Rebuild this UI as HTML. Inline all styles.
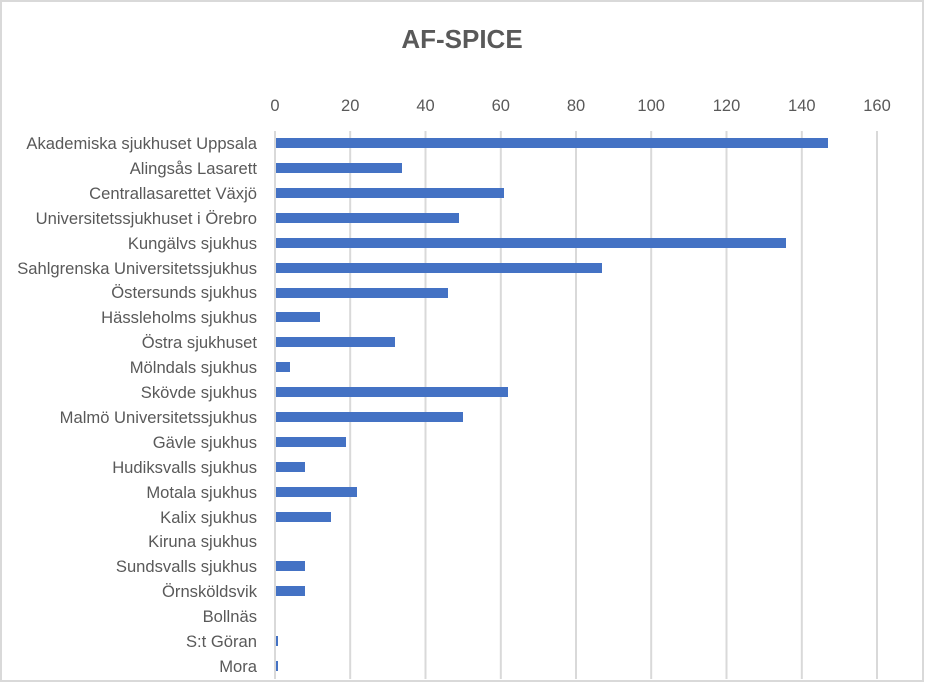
<!DOCTYPE html>
<html><head><meta charset="utf-8"><style>
html,body{margin:0;padding:0;background:#fff;}
svg{display:block;font-family:"Liberation Sans",sans-serif;}
</style></head><body>
<svg width="925" height="683" viewBox="0 0 925 683" xmlns="http://www.w3.org/2000/svg">
<rect x="1" y="1" width="922" height="680" fill="#fff" stroke="#d9d9d9" stroke-width="2"/>
<text x="462" y="48" text-anchor="middle" font-size="26" font-weight="bold" fill="#595959">AF-SPICE</text>
<g stroke="#d9d9d9" stroke-width="2">
<line x1="350.2" y1="131" x2="350.2" y2="679"/>
<line x1="425.5" y1="131" x2="425.5" y2="679"/>
<line x1="500.8" y1="131" x2="500.8" y2="679"/>
<line x1="576" y1="131" x2="576" y2="679"/>
<line x1="651.2" y1="131" x2="651.2" y2="679"/>
<line x1="726.5" y1="131" x2="726.5" y2="679"/>
<line x1="801.8" y1="131" x2="801.8" y2="679"/>
<line x1="877" y1="131" x2="877" y2="679"/>
<line x1="275" y1="131" x2="275" y2="679"/>
</g>
<g font-size="16.5" fill="#595959" text-anchor="middle">
<text x="275" y="111">0</text><text x="350.2" y="111">20</text><text x="425.5" y="111">40</text><text x="500.8" y="111">60</text><text x="576" y="111">80</text><text x="651.2" y="111">100</text><text x="726.5" y="111">120</text><text x="801.8" y="111">140</text><text x="877" y="111">160</text>
</g>
<g fill="#4472c4">
<rect x="276" y="138" width="552" height="10"/>
<rect x="276" y="163" width="126" height="10"/>
<rect x="276" y="188" width="228" height="10"/>
<rect x="276" y="213" width="183" height="10"/>
<rect x="276" y="238" width="510" height="10"/>
<rect x="276" y="263" width="326" height="10"/>
<rect x="276" y="288" width="172" height="10"/>
<rect x="276" y="312" width="44" height="10"/>
<rect x="276" y="337" width="119" height="10"/>
<rect x="276" y="362" width="14" height="10"/>
<rect x="276" y="387" width="232" height="10"/>
<rect x="276" y="412" width="187" height="10"/>
<rect x="276" y="437" width="70" height="10"/>
<rect x="276" y="462" width="29" height="10"/>
<rect x="276" y="487" width="81" height="10"/>
<rect x="276" y="512" width="55" height="10"/>
<rect x="276" y="561" width="29" height="10"/>
<rect x="276" y="586" width="29" height="10"/>
<rect x="276" y="636" width="2" height="10"/>
<rect x="276" y="661" width="2" height="10"/>
</g>
<g font-size="16.6" fill="#595959" text-anchor="end">
<text x="257" y="149">Akademiska sjukhuset Uppsala</text>
<text x="257" y="174">Alingsås Lasarett</text>
<text x="257" y="199">Centrallasarettet Växjö</text>
<text x="257" y="224">Universitetssjukhuset i Örebro</text>
<text x="257" y="249">Kungälvs sjukhus</text>
<text x="257" y="274">Sahlgrenska Universitetssjukhus</text>
<text x="257" y="298">Östersunds sjukhus</text>
<text x="257" y="323">Hässleholms sjukhus</text>
<text x="257" y="348">Östra sjukhuset</text>
<text x="257" y="373">Mölndals sjukhus</text>
<text x="257" y="398">Skövde sjukhus</text>
<text x="257" y="423">Malmö Universitetssjukhus</text>
<text x="257" y="448">Gävle sjukhus</text>
<text x="257" y="473">Hudiksvalls sjukhus</text>
<text x="257" y="498">Motala sjukhus</text>
<text x="257" y="523">Kalix sjukhus</text>
<text x="257" y="547">Kiruna sjukhus</text>
<text x="257" y="572">Sundsvalls sjukhus</text>
<text x="257" y="597">Örnsköldsvik</text>
<text x="257" y="622">Bollnäs</text>
<text x="257" y="647">S:t Göran</text>
<text x="257" y="672">Mora</text>
</g>
</svg>
</body></html>
